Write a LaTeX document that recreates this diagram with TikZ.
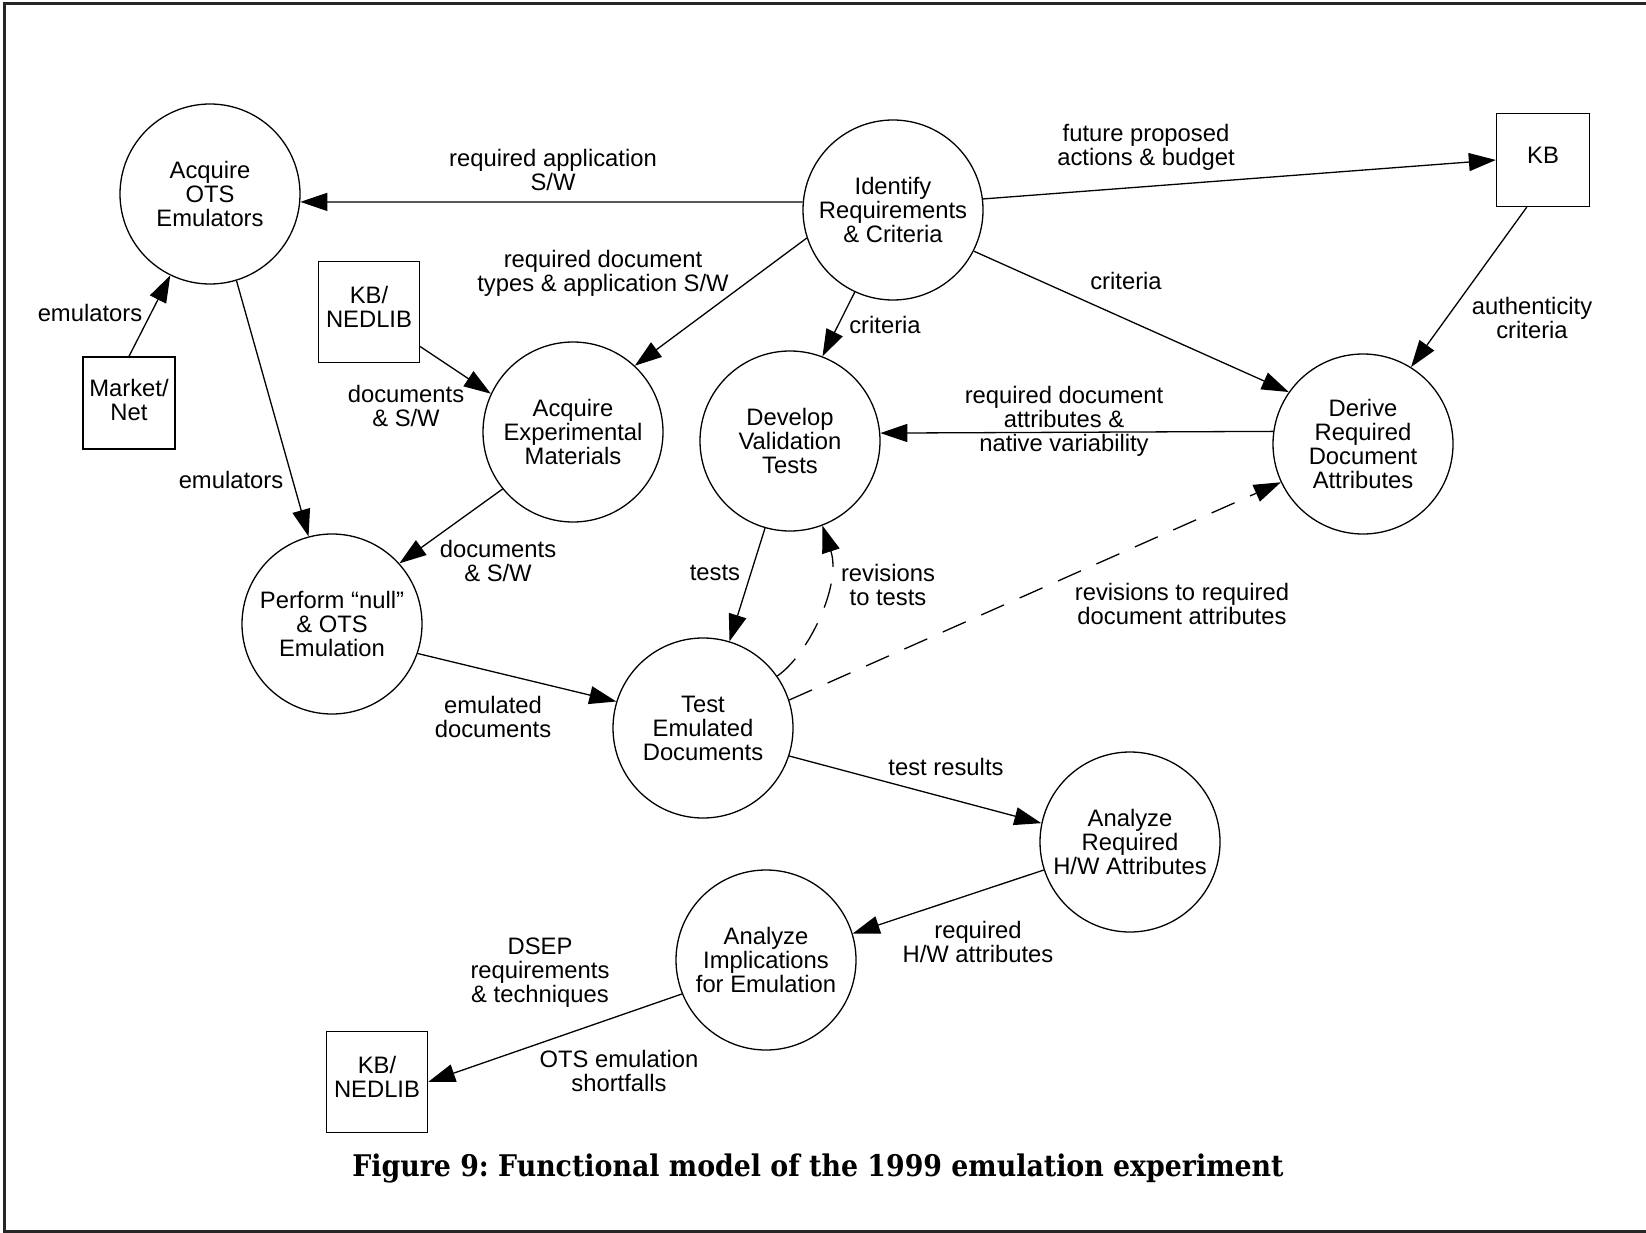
\documentclass[tikz,border=0pt]{standalone}
\usepackage{fontspec}
\setmainfont{Liberation Sans}
\newfontfamily\capfont{DejaVu Serif Condensed}
\usetikzlibrary{arrows.meta}
\begin{document}
\begin{tikzpicture}[x=1pt,y=-1pt,
  every node/.style={font=\fontsize{23.8pt}{24pt}\selectfont, align=center, inner sep=0pt},
  proc/.style={draw, circle, minimum size=180pt, line width=1.3pt},
  store/.style={draw, rectangle, minimum width=#1, minimum height=#1, line width=1.3pt},
  boxtext/.style={yshift=5pt},
  flow/.style={line width=1.3pt, -{Triangle[length=27pt,width=18pt]}},
  rev/.style={flow, dash pattern=on 25pt off 17pt}
]
\useasboundingbox (0,0) rectangle (1646,1233);
% frame
\draw[line width=3pt, black!85] (1646,4) -- (4,4) -- (4,1231) -- (1646,1231);

% processes
\node[proc] (ots)   at (210,194) {Acquire\\OTS\\Emulators};
\node[proc] (ident) at (893,210) {Identify\\Requirements\\\& Criteria};
\node[proc] (aexp)  at (573,432) {Acquire\\Experimental\\Materials};
\node[proc] (dev)   at (790,441) {Develop\\Validation\\Tests};
\node[proc] (der)   at (1363,444) {Derive\\Required\\Document\\Attributes};
\node[proc] (perf)  at (332,624) {Perform “null”\\\& OTS\\Emulation};
\node[proc] (test)  at (703,728) {Test\\Emulated\\Documents};
\node[proc] (ahw)   at (1130,842) {Analyze\\Required\\H/W Attributes};
\node[proc] (aimp)  at (766,960) {Analyze\\Implications\\for Emulation};

% stores
\node[store=93pt,  label={[boxtext]center:KB}] (kb) at (1543,160) {};
\node[store=101pt, label={[boxtext]center:KB/\\NEDLIB}] (kbn) at (369,312) {};
\node[store=92pt,  label={[yshift=3pt]center:Market/\\Net}] (mkt) at (129,403) {};
\node[store=101pt, label={[boxtext]center:KB/\\NEDLIB}] (kbnout) at (377,1082) {};

% flows
\draw[flow] (ident.175) -- (ots.-5);
\draw[flow] (ident.7) -- (kb.west);
\draw[flow] (ident.198) -- (aexp.47);
\draw[flow] (ident.245) -- (dev.69);
\draw[flow] (ident.-27) -- (der.145);
\draw[flow] (kb.251) -- (der.58);
\draw[flow] (der.172) -- (dev.5);
\draw[flow] (mkt.north) -- (ots.244);
\draw[flow] (kbn.-34) -- (aexp.155);
\draw[flow] (ots.-73) -- (perf.105);
\draw[flow] (aexp.219) -- (perf.42);
\draw[flow] (perf.-19) -- (test.163);
\draw[flow] (dev.254) -- (test.73);
\draw[rev] (test.35) .. controls (808,655) and (842,585) .. (dev.-69);
\draw[rev] (test.18) -- (der.205);
\draw[flow] (test.-18) -- (ahw.168);
\draw[flow] (ahw.198) -- (aimp.17);
\draw[flow] (aimp.202) -- (kbnout.east);

% flow labels
\node (l1)  at (553,170)  {required application\\S/W};
\node (l2)  at (1146,147) {future proposed\\actions \& budget};
\node (l3)  at (603,273)  {required document\\types \& application S/W};
\node (l4)  at (885,325)  {criteria};
\node (l5)  at (1126,281) {criteria};
\node (l6)  at (1532,318) {authenticity\\criteria};
\node (l7)  at (1064,421) {required document\\attributes \&\\native variability};
\node (l8)  at (90,313)   {emulators};
\node (l9)  at (406,406)  {documents\\\& S/W};
\node (l10) at (231,480)  {emulators};
\node (l11) at (498,561)  {documents\\\& S/W};
\node (l12) at (493,717)  {emulated\\documents};
\node (l13) at (715,573)  {tests};
\node (l14) at (888,585)  {revisions\\to tests};
\node (l15) at (1182,604) {revisions to required\\document attributes};
\node (l16) at (946,767)  {test results};
\node (l17) at (978,942)  {required\\H/W attributes};
\node (l18) at (540,973)  {DSEP\\requirements\\\& techniques};
\node (l19) at (619,1071) {OTS emulation\\shortfalls};

% caption
\node (cap) at (818,1168) {\capfont\bfseries\frenchspacing\fontsize{29.8pt}{31pt}\selectfont Figure 9: Functional model of the 1999 emulation experiment};
\end{tikzpicture}
\end{document}
